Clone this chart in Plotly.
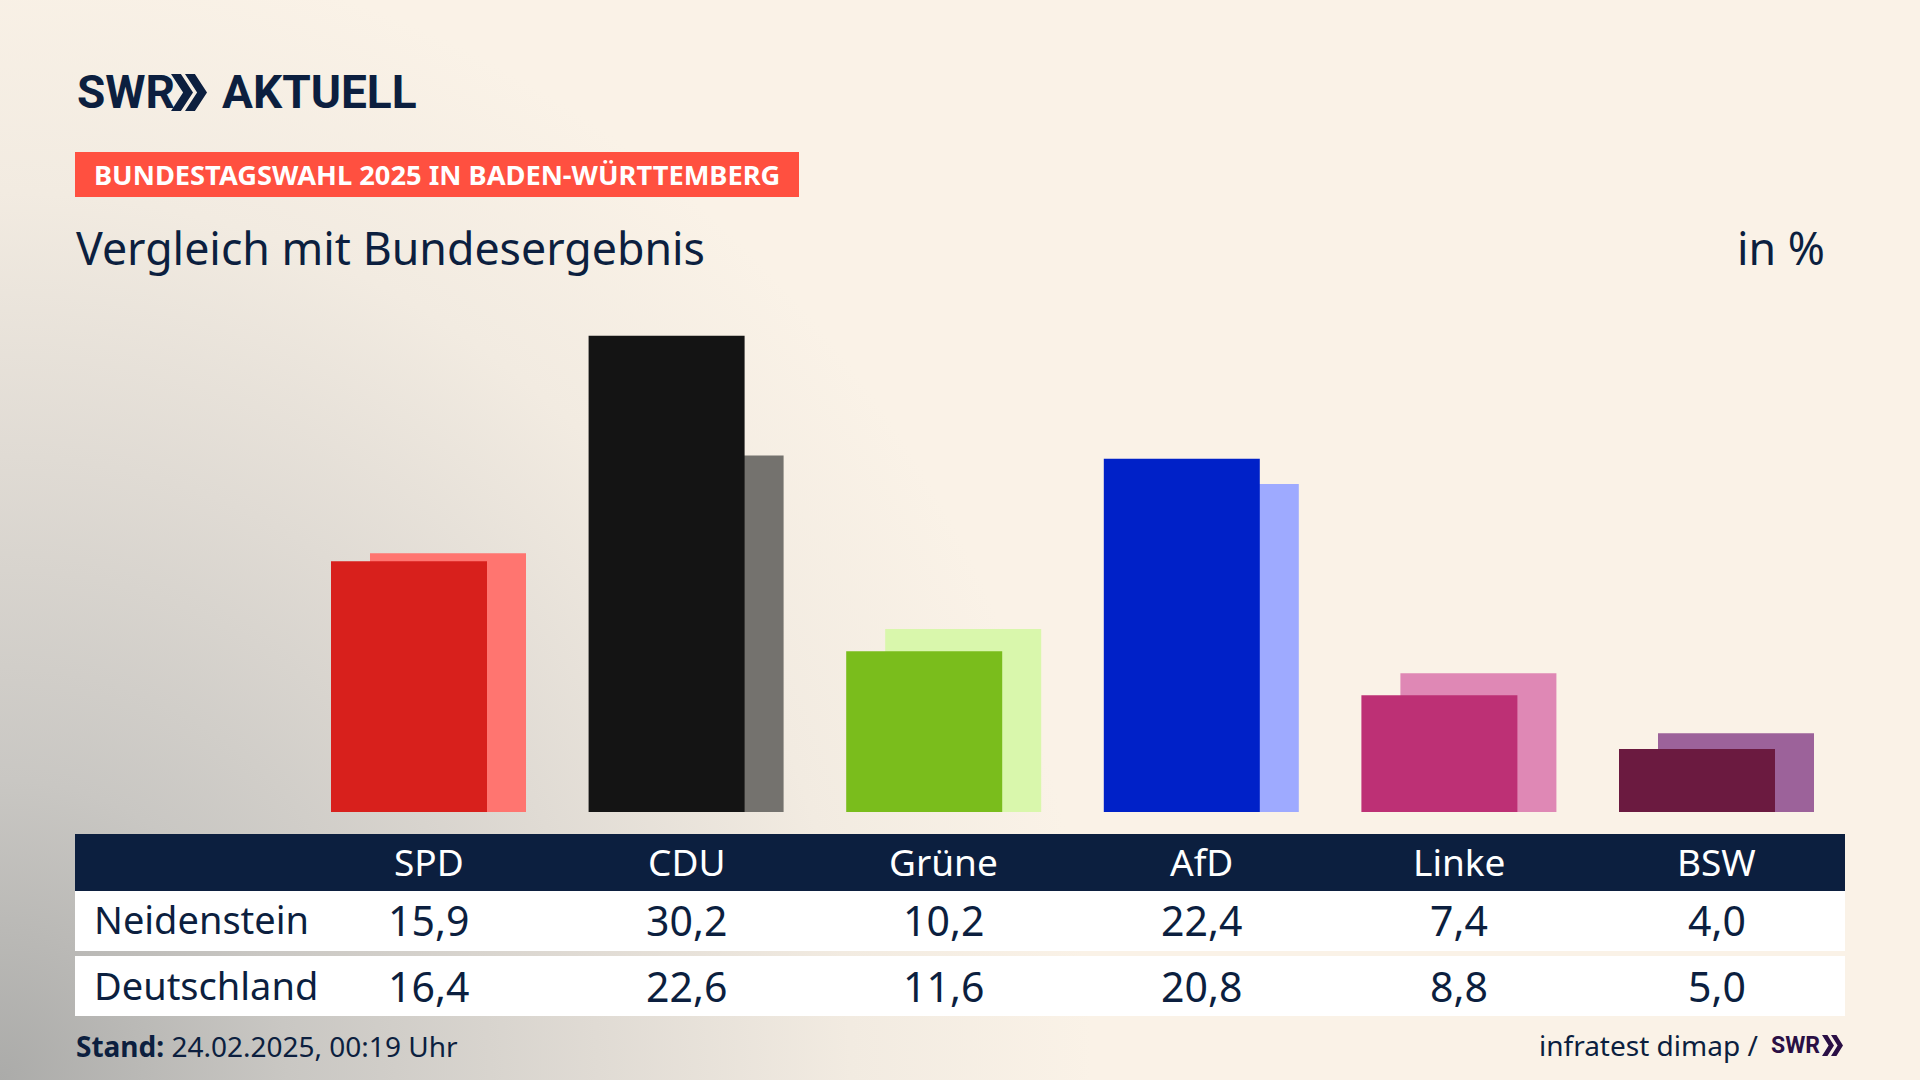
# Bundestagswahl 2025: Neidenstein vs Deutschland bar chart
import plotly.graph_objects as go

# Data
parties = ['SPD', 'CDU', 'Grüne', 'AfD', 'Linke', 'BSW']
neidenstein = [15.9, 30.2, 10.2, 22.4, 7.4, 4.0]
deutschland = [16.4, 22.6, 11.6, 20.8, 8.8, 5.0]
row_labels = ['Neidenstein', 'Deutschland']

# Colours
front_colors = ['#D8201C', '#141414', '#7ABD1C', '#0021C8', '#BD3075', '#6B1A40']
back_colors = ['#FF7570', '#74726E', '#D9F7AC', '#9EAAFF', '#DF88B5', '#9C629A']
navy = '#0C1F3F'
FONT = 'Noto Sans'
LOGO_FONT = 'Roboto'

W, H = 1920, 1080
STEP = 257.6


# pixel helpers for the paper coordinates
def px(x):
    return x / W


def py(y):
    return 1 - y / H


def text(s, x, y, size, color=navy, anchor='left', xref='paper', font=FONT):
    xpos = px(x) if xref == 'paper' else x
    return dict(text=s, x=xpos, y=py(y), xref=xref, yref='paper', showarrow=False,
                xanchor=anchor, yanchor='middle', font=dict(family=font, size=size, color=color))


def rect(x0, y0, x1, y1, color):
    return dict(type='rect', xref='paper', yref='paper', x0=px(x0), x1=px(x1), y0=py(y0), y1=py(y1),
                fillcolor=color, line=dict(width=0), layer='below')


def chevrons(x, y0, y1, w, gap, color):
    # the two >> of the SWR logo
    paths = []
    mid = (py(y0) + py(y1)) / 2
    for k in range(2):
        a = x + k * gap
        paths.append(dict(type='path', xref='paper', yref='paper', fillcolor=color, line=dict(width=0),
                          path=f'M {px(a)} {py(y0)} L {px(a + w * 0.45)} {py(y0)} L {px(a + w)} {mid} '
                               f'L {px(a + w * 0.45)} {py(y1)} L {px(a)} {py(y1)} L {px(a + w * 0.55)} {mid} Z'))
    return paths


fig = go.Figure()

idx = list(range(len(parties)))
bar_w = 156 / STEP

# Deutschland behind, shifted right
fig.add_trace(go.Bar(x=idx, y=deutschland, name='Deutschland', marker=dict(color=back_colors, line=dict(width=0)),
                     width=bar_w, offset=-58.5 / STEP))
# Neidenstein in front
fig.add_trace(go.Bar(x=idx, y=neidenstein, name='Neidenstein', marker=dict(color=front_colors, line=dict(width=0)),
                     width=bar_w, offset=-97.5 / STEP))

shapes = [
    rect(75, 152, 799, 197, '#FF5040'),
    rect(75, 834, 1845, 891, navy),
    rect(75, 891, 1845, 951, 'white'),
    rect(75, 956, 1845, 1016, 'white'),
]
shapes += chevrons(171, 74, 111, 22, 14, navy)
shapes += chevrons(1822, 1035, 1056, 12, 9, '#2A0F45')

annotations = [
    text('<b>SWR</b>', 75, 92, 46, font=LOGO_FONT),
    text('<b>AKTUELL</b>', 220, 92, 46, font=LOGO_FONT),
    text('<b>BUNDESTAGSWAHL 2025 IN BADEN-WÜRTTEMBERG</b>', 92, 175, 27.25, color='white'),
    text('Vergleich mit Bundesergebnis', 74, 247, 44.7),
    text('in %', 1827, 247, 44.7, anchor='right'),
    text('<b>Stand:</b> 24.02.2025, 00:19 Uhr', 74, 1046, 28),
    text('infratest dimap /', 1760, 1045, 28, anchor='right'),
    text('<b>SWR</b>', 1769, 1045, 23, color='#2A0F45', font=LOGO_FONT),
    text(row_labels[0], 92, 919, 38),
    text(row_labels[1], 92, 985, 38),
]
for i, p in enumerate(parties):
    annotations.append(text(p, i, 861, 37, color='white', anchor='center', xref='x'))
    annotations.append(text(f'{neidenstein[i]:.1f}'.replace('.', ','), i, 920, 41, anchor='center', xref='x'))
    annotations.append(text(f'{deutschland[i]:.1f}'.replace('.', ','), i, 986, 41, anchor='center', xref='x'))

fig.update_layout(
    width=W, height=H,
    margin=dict(l=0, r=0, t=0, b=0),
    paper_bgcolor='rgba(0,0,0,0)',
    plot_bgcolor='rgba(0,0,0,0)',
    barmode='overlay',
    showlegend=False,
    shapes=shapes,
    annotations=annotations,
    xaxis=dict(domain=[px(75), px(1845)], range=[(75 - 428.5) / STEP, (1845 - 428.5) / STEP], visible=False),
    yaxis=dict(domain=[py(812), py(220)], range=[0, (812 - 220) / 15.77], visible=False),
)

# background gradient and no body margin, set on the page itself
bg = ("document.body.style.margin='0';"
      "document.body.style.overflow='hidden';"
      "document.body.style.background='radial-gradient(ellipse 1150px 1200px at 0% 100%, "
      "#ABABA9 0%, #C9C7C3 25%, #E0DBD4 52%, #F2EBE1 74%, #FAF2E7 95%) #FAF2E7';")
fig.write_html("out.html", post_script=bg, config=dict(displayModeBar=False))
